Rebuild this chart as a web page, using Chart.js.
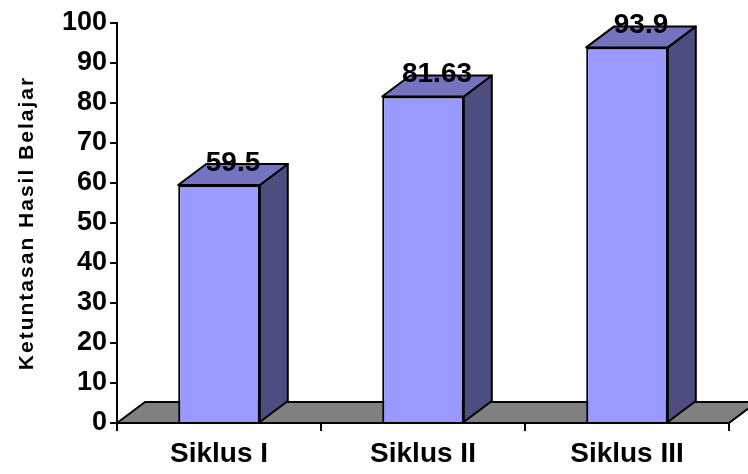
<!DOCTYPE html>
<html><head><meta charset="utf-8">
<script src="https://cdn.jsdelivr.net/npm/chart.js@4.4.1/dist/chart.umd.min.js"></script>
<style>html,body{margin:0;padding:0;background:#fff}#wrap{width:748px;height:474px;position:relative}</style>
</head><body><div id="wrap"><canvas id="c"></canvas></div>
<script>
const categories = ['Siklus I', 'Siklus II', 'Siklus III'];
const values = [59.5, 81.63, 93.9];
const yAxisTitle = 'Ketuntasan Hasil Belajar';
const yMin = 0, yMax = 100, yStep = 10;

const FONT = '"Liberation Sans", Arial, sans-serif';
const DX = 28, DY = 21;
const FRONT = '#9999FF', SIDE = '#4D4D80', TOP = '#7373BF', FLOOR = '#808080';

const bar3d = {
  id: 'bar3d',
  beforeDatasetsDraw(chart) {
    const ctx = chart.ctx, xs = chart.scales.x, ys = chart.scales.y;
    const y0 = ys.getPixelForValue(0), l = xs.left, r = xs.right;
    ctx.save();
    ctx.beginPath();
    ctx.moveTo(l, y0); ctx.lineTo(r, y0); ctx.lineTo(r + DX, y0 - DY); ctx.lineTo(l + DX, y0 - DY);
    ctx.closePath();
    ctx.fillStyle = FLOOR; ctx.fill();
    ctx.lineWidth = 2; ctx.strokeStyle = '#000'; ctx.lineJoin = 'round'; ctx.stroke();
    ctx.restore();
  },
  afterDatasetsDraw(chart) {
    const ctx = chart.ctx;
    const meta = chart.getDatasetMeta(0);
    ctx.save();
    ctx.lineWidth = 2; ctx.strokeStyle = '#000'; ctx.lineJoin = 'round';
    meta.data.forEach((bar, i) => {
      const p = bar.getProps(['x', 'y', 'base', 'width'], true);
      const L = p.x - p.width / 2, R = p.x + p.width / 2, y = p.y, b = p.base;
      ctx.beginPath();
      ctx.moveTo(R, b); ctx.lineTo(R + DX, b - DY); ctx.lineTo(R + DX, y - DY); ctx.lineTo(R, y); ctx.closePath();
      ctx.fillStyle = SIDE; ctx.fill(); ctx.stroke();
      ctx.beginPath();
      ctx.moveTo(L, y); ctx.lineTo(L + DX, y - DY); ctx.lineTo(R + DX, y - DY); ctx.lineTo(R, y); ctx.closePath();
      ctx.fillStyle = TOP; ctx.fill(); ctx.stroke();
      ctx.fillStyle = '#000';
      ctx.font = 'bold 28px ' + FONT;
      ctx.textAlign = 'center'; ctx.textBaseline = 'middle';
      ctx.fillText(String(values[i]), p.x + DX / 2, y - DY - 1);
    });
    ctx.restore();
  },
  afterDraw(chart) {
    const ctx = chart.ctx, ys = chart.scales.y;
    ctx.save();
    ctx.translate(27, (ys.top + ys.bottom) / 2);
    ctx.rotate(-Math.PI / 2);
    ctx.font = 'bold 21px ' + FONT;
    try { ctx.letterSpacing = '2px'; } catch (e) {}
    ctx.fillStyle = '#000';
    ctx.textAlign = 'center'; ctx.textBaseline = 'middle';
    ctx.fillText(yAxisTitle, 0, 0);
    ctx.restore();
  }
};

new Chart(document.getElementById('c'), {
  type: 'bar',
  data: {
    labels: categories,
    datasets: [{
      data: values,
      backgroundColor: FRONT,
      borderColor: '#000',
      borderWidth: 2,
      categoryPercentage: 0.5,
      barPercentage: 0.8
    }]
  },
  options: {
    responsive: true,
    maintainAspectRatio: false,
    animation: false,
    layout: { padding: { left: 0, right: 19, top: 23, bottom: 0 } },
    plugins: { legend: { display: false }, tooltip: { enabled: false } },
    scales: {
      x: {
        grid: { display: true, drawOnChartArea: false, drawTicks: true, tickLength: 8, color: '#000', lineWidth: 2, offset: true },
        border: { display: true, color: '#000', width: 2 },
        ticks: { color: '#000', font: { family: FONT, size: 28, weight: 'bold' }, padding: 6, maxRotation: 0 },
        afterFit(scale) { scale.height = 51; }
      },
      y: {
        min: yMin, max: yMax,
        grid: { display: true, drawOnChartArea: false, drawTicks: true, tickLength: 7, color: '#000', lineWidth: 2 },
        border: { display: true, color: '#000', width: 2 },
        ticks: { stepSize: yStep, color: '#000', font: { family: FONT, size: 27, weight: 'bold' }, padding: 3 },
        afterFit(scale) { scale.width = 117; }
      }
    }
  },
  plugins: [bar3d]
});
</script>
</body></html>
